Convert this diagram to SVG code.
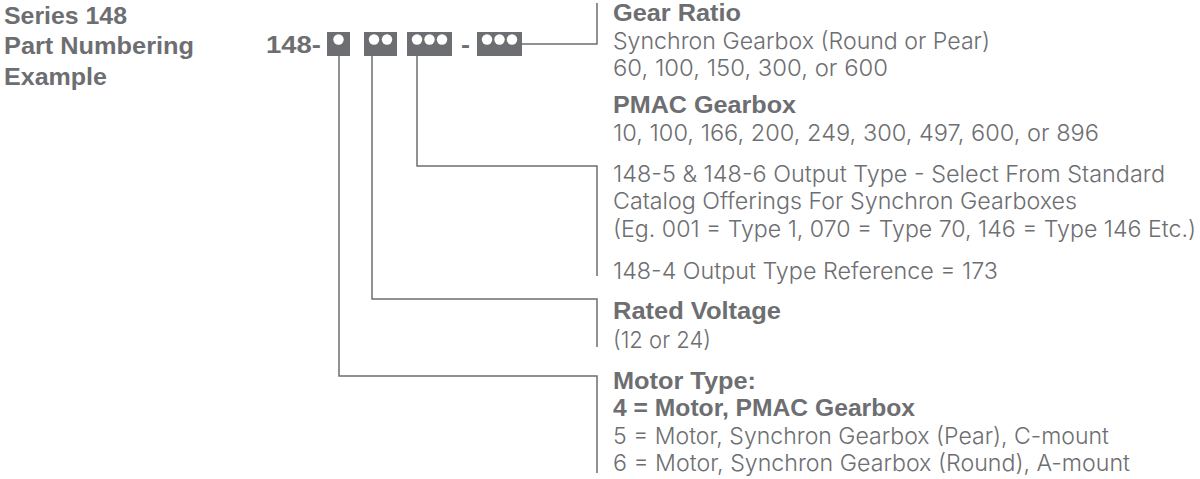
<svg xmlns="http://www.w3.org/2000/svg" width="1200" height="479" viewBox="0 0 1200 479">
<style>
text{font-family:"Inter","Liberation Sans",Arial,sans-serif;font-weight:300;fill:#6d6e71;font-size:23.2px}
.b{font-family:"Liberation Sans",Arial,sans-serif;font-weight:700;font-size:24px}
.box{fill:#6d6e71}
.dot{fill:#fff}
.wire{fill:none;stroke:#6d6e71;stroke-width:1.5}
</style>
<rect width="1200" height="479" fill="#fff"/>
<g id="title">
<text class="b" x="4" y="24" textLength="123" lengthAdjust="spacingAndGlyphs">Series 148</text>
<text class="b" x="4" y="54" textLength="190" lengthAdjust="spacingAndGlyphs">Part Numbering</text>
<text class="b" x="4" y="85" textLength="103" lengthAdjust="spacingAndGlyphs">Example</text>
</g>
<g id="code">
<text class="b" x="266" y="53" textLength="55" lengthAdjust="spacingAndGlyphs">148-</text>
<text class="b" x="461" y="53" textLength="9" lengthAdjust="spacingAndGlyphs">-</text>
</g>
<g id="box-motor"><rect class="box" x="327" y="32" width="23" height="24"/><circle class="dot" cx="338.500" cy="39.500" r="5.200"/></g>
<g id="box-voltage"><rect class="box" x="364" y="32" width="33" height="24"/><circle class="dot" cx="374" cy="39.500" r="5.200"/><circle class="dot" cx="387" cy="39.500" r="5.200"/></g>
<g id="box-output"><rect class="box" x="407" y="32" width="45" height="24"/><circle class="dot" cx="417" cy="39.500" r="5.200"/><circle class="dot" cx="429.500" cy="39.500" r="5.200"/><circle class="dot" cx="442" cy="39.500" r="5.200"/></g>
<g id="box-ratio"><rect class="box" x="477" y="32" width="45" height="24"/><circle class="dot" cx="487" cy="39.500" r="5.200"/><circle class="dot" cx="499.500" cy="39.500" r="5.200"/><circle class="dot" cx="512" cy="39.500" r="5.200"/></g>
<g id="connectors">
<path class="wire" d="M522 44H597V3"/>
<path class="wire" d="M417 56V166H597V276"/>
<path class="wire" d="M372 56V299H597V347"/>
<path class="wire" d="M339 56V376H597V473"/>
</g>
<g id="gear-ratio">
<text class="b" x="613" y="21" textLength="128" lengthAdjust="spacingAndGlyphs">Gear Ratio</text>
<text x="613" y="49" textLength="377" lengthAdjust="spacingAndGlyphs">Synchron Gearbox (Round or Pear)</text>
<text x="613" y="76" textLength="275" lengthAdjust="spacingAndGlyphs">60, 100, 150, 300, or 600</text>
<text class="b" x="613" y="113" textLength="183" lengthAdjust="spacingAndGlyphs">PMAC Gearbox</text>
<text x="613" y="141" textLength="486" lengthAdjust="spacingAndGlyphs">10, 100, 166, 200, 249, 300, 497, 600, or 896</text>
</g>
<g id="output-type">
<text x="613" y="182" textLength="552" lengthAdjust="spacingAndGlyphs">148-5 &amp; 148-6 Output Type - Select From Standard</text>
<text x="613" y="209" textLength="464" lengthAdjust="spacingAndGlyphs">Catalog Offerings For Synchron Gearboxes</text>
<text x="613" y="237" textLength="583" lengthAdjust="spacingAndGlyphs">(Eg. 001 = Type 1, 070 = Type 70, 146 = Type 146 Etc.)</text>
<text x="613" y="279" textLength="385" lengthAdjust="spacingAndGlyphs">148-4 Output Type Reference = 173</text>
</g>
<g id="rated-voltage">
<text class="b" x="613" y="319" textLength="168" lengthAdjust="spacingAndGlyphs">Rated Voltage</text>
<text x="613" y="348" textLength="98" lengthAdjust="spacingAndGlyphs">(12 or 24)</text>
</g>
<g id="motor-type">
<text class="b" x="613" y="389" textLength="143" lengthAdjust="spacingAndGlyphs">Motor Type:</text>
<text class="b" x="613" y="416" textLength="302" lengthAdjust="spacingAndGlyphs">4 = Motor, PMAC Gearbox</text>
<text x="613" y="444" textLength="496" lengthAdjust="spacingAndGlyphs">5 = Motor, Synchron Gearbox (Pear), C-mount</text>
<text x="613" y="471" textLength="517" lengthAdjust="spacingAndGlyphs">6 = Motor, Synchron Gearbox (Round), A-mount</text>
</g>
</svg>
